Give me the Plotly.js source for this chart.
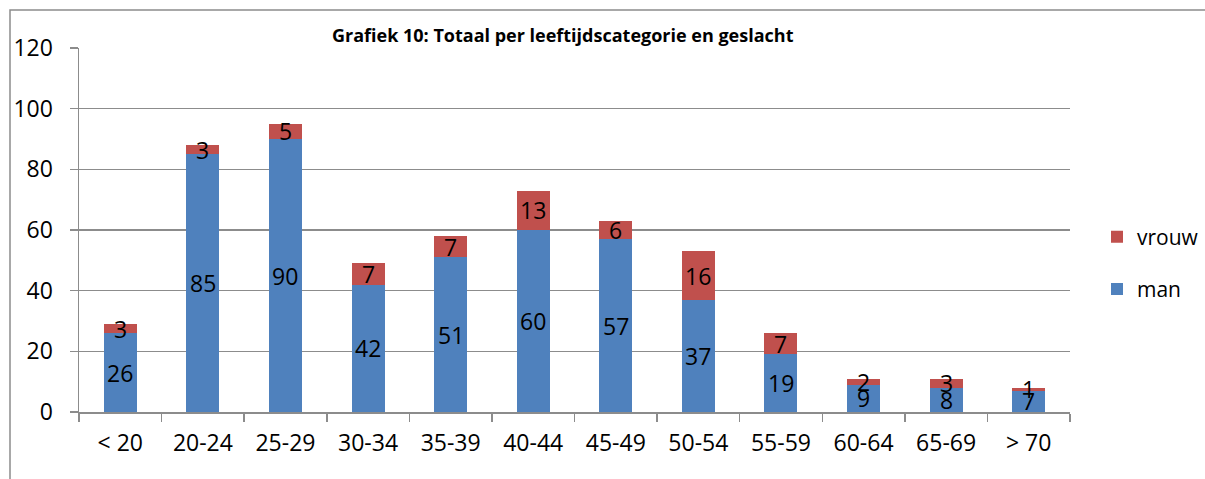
<!DOCTYPE html>
<html>
<head>
<meta charset="utf-8">
<script src="https://cdn.plot.ly/plotly-3.0.1.min.js"></script>
<style>
html,body{margin:0;padding:0;background:#fff;}
#chart{width:1205px;height:479px;}
</style>
</head>
<body>
<div id="chart"></div>
<script>
const categories = ["< 20","20-24","25-29","30-34","35-39","40-44","45-49","50-54","55-59","60-64","65-69","> 70"];
const man   = [26,85,90,42,51,60,57,37,19,9,8,7];
const vrouw = [3,3,5,7,7,13,6,16,7,2,3,1];
const yTicks = [0,20,40,60,80,100,120];

const FONT = "'Open Sans', sans-serif";
const gridCol = "#8c8c8c";
const FS = 23;

const traces = [
  {type:"bar", name:"man", x:categories, y:man, marker:{color:"#4F81BD"},
   legendgroup:"m", legendrank:2, hoverinfo:"skip"},
  {type:"bar", name:"vrouw", x:categories, y:vrouw, marker:{color:"#C0504D"},
   legendgroup:"v", legendrank:1, hoverinfo:"skip"}
];

const annotations = [];
categories.forEach((c,i)=>{
  annotations.push({x:c, y:man[i]/2, xref:"x", yref:"y", text:String(man[i]),
    showarrow:false, font:{family:FONT,size:FS,color:"#000"}, yanchor:"middle"});
  annotations.push({x:c, y:man[i]+vrouw[i]/2, xref:"x", yref:"y", text:String(vrouw[i]),
    showarrow:false, font:{family:FONT,size:FS,color:"#000"}, yanchor:"middle"});
});

const layout = {
  width:1205, height:479,
  margin:{l:79, r:135, t:48, b:67, pad:0, autoexpand:false},
  paper_bgcolor:"#fff", plot_bgcolor:"#fff",
  barmode:"stack", bargap:0.6,
  font:{family:FONT, size:FS, color:"#000"},
  title:{text:"<b>Grafiek 10: Totaal per leeftijdscategorie en geslacht</b>",
    font:{family:FONT, size:18, color:"#000"}, x:0.467, xanchor:"center",
    y:0.925, yanchor:"middle", xref:"container", yref:"container"},
  xaxis:{type:"category", showgrid:false, showline:true, linecolor:gridCol, linewidth:1.5,
    ticks:"outside", tickson:"boundaries", ticklen:8, tickcolor:gridCol, tickwidth:1.5,
    ticklabelstandoff:10, automargin:false,
    tickfont:{family:FONT,size:FS,color:"#000"}, zeroline:false, fixedrange:true},
  yaxis:{range:[0,120], tickvals:yTicks, ticktext:yTicks.map(String), showgrid:true,
    gridcolor:gridCol, gridwidth:1.5, showline:true, linecolor:gridCol, linewidth:1.5,
    ticks:"outside", ticklen:8, tickcolor:gridCol, tickwidth:1.5, zeroline:false,
    ticklabelstandoff:12, automargin:false,
    tickfont:{family:FONT,size:FS,color:"#000"}, fixedrange:true},
  legend:{xref:"container", yref:"container", x:1097/1205, xanchor:"left",
    y:1-263/479, yanchor:"middle", traceorder:"grouped",
    tracegroupgap:22, font:{family:FONT,size:21,color:"#000"}, bgcolor:"rgba(0,0,0,0)"},
  annotations:annotations,
  shapes:[{type:"rect", xref:"paper", yref:"paper", x0:(10-79)/991, x1:1.3,
    y0:-0.3, y1:(412-10)/364, line:{color:"#8c8c8c", width:1.5}, layer:"below"}],
  showlegend:true
};

Plotly.newPlot("chart", traces, layout, {displayModeBar:false, staticPlot:true});
</script>
</body>
</html>
